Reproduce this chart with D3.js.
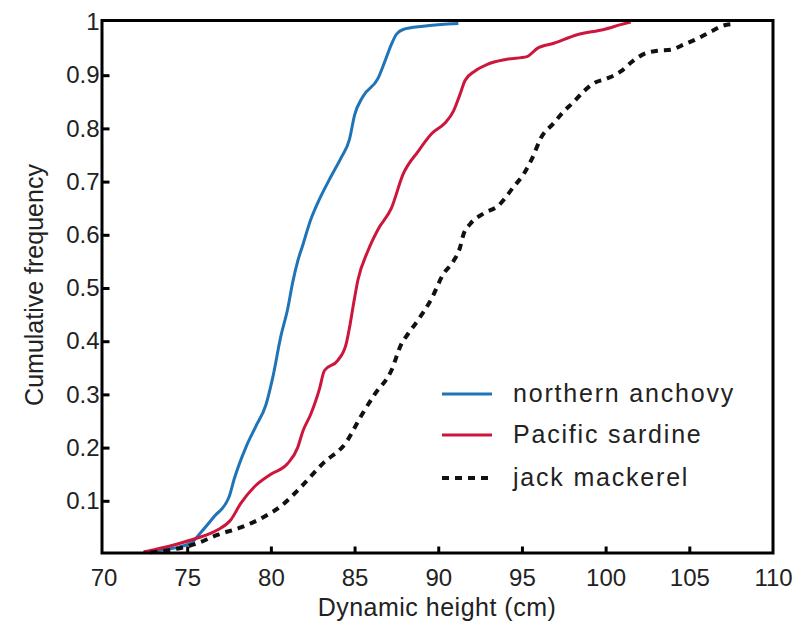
<!DOCTYPE html>
<html>
<head>
<meta charset="utf-8">
<script src="https://cdn.jsdelivr.net/npm/d3@7"></script>
<style>
  body { margin: 0; background: #fff; }
  text { font-family: "Liberation Sans", Arial, sans-serif; fill: #222; }
</style>
</head>
<body>
<div id="chart"></div>
<script>
var xTicks = [70, 75, 80, 85, 90, 95, 100, 105, 110];
var yTicks = [0.1, 0.2, 0.3, 0.4, 0.5, 0.6, 0.7, 0.8, 0.9, 1];

var seriesNames = ["northern anchovy", "Pacific sardine", "jack mackerel"];

var anchovyX = [72.4, 73.6, 75.2, 75.8, 76.6, 77.5, 77.8, 78.5, 79.1, 79.7, 80.1, 80.6, 81.0, 81.3, 81.6, 81.9, 82.4, 82.8, 83.6, 84.2, 84.7, 85.0, 85.5, 86.4, 86.8, 87.2, 87.5, 87.9, 89.1, 91.2];
var anchovyY = [0.004, 0.008, 0.02, 0.04, 0.07, 0.107, 0.14, 0.2, 0.24, 0.28, 0.33, 0.41, 0.46, 0.51, 0.55, 0.58, 0.63, 0.66, 0.71, 0.745, 0.78, 0.825, 0.86, 0.894, 0.925, 0.958, 0.977, 0.986, 0.992, 0.997];

var sardineX = [72.4, 74.2, 75.6, 76.8, 77.6, 78.2, 79.0, 80.0, 81.0, 81.6, 81.9, 82.4, 82.7, 82.9, 83.2, 84.0, 84.5, 84.7, 84.9, 85.2, 85.8, 86.4, 87.2, 87.9, 88.8, 89.6, 90.4, 90.9, 91.3, 91.6, 92.2, 92.9, 94.1, 95.3, 95.9, 96.9, 98.3, 99.9, 100.9, 101.5];
var sardineY = [0.004, 0.017, 0.03, 0.045, 0.064, 0.095, 0.126, 0.15, 0.17, 0.2, 0.23, 0.264, 0.29, 0.31, 0.345, 0.364, 0.395, 0.426, 0.463, 0.515, 0.57, 0.61, 0.65, 0.714, 0.757, 0.79, 0.81, 0.832, 0.864, 0.89, 0.908, 0.92, 0.93, 0.935, 0.95, 0.96, 0.976, 0.986, 0.995, 1.0];

var mackerelX = [72.8, 75.6, 76.8, 78.2, 79.6, 80.6, 81.8, 83.1, 84.5, 85.4, 86.2, 87.2, 87.8, 88.2, 88.8, 89.6, 90.3, 90.9, 91.3, 91.5, 91.9, 92.7, 93.6, 94.5, 95.1, 95.7, 96.1, 96.9, 97.5, 98.1, 98.7, 99.3, 100.1, 100.9, 101.6, 102.3, 103.1, 103.9, 104.7, 105.5, 106.3, 107.0, 107.8];
var mackerelY = [0.003, 0.02, 0.036, 0.05, 0.07, 0.09, 0.126, 0.17, 0.21, 0.26, 0.30, 0.345, 0.395, 0.414, 0.44, 0.48, 0.526, 0.55, 0.576, 0.6, 0.62, 0.64, 0.655, 0.69, 0.714, 0.75, 0.78, 0.81, 0.832, 0.85, 0.87, 0.885, 0.894, 0.907, 0.926, 0.94, 0.946, 0.948, 0.958, 0.969, 0.982, 0.993, 0.997];

var width = 797, height = 626;

var svg = d3.select("#chart").append("svg")
    .attr("width", width)
    .attr("height", height);

var x = d3.scaleLinear().domain([70, 110]).range([103.5, 773]);
var y = d3.scaleLinear().domain([0, 1]).range([554, 22]);

var series = [
    { name: seriesNames[0], xs: anchovyX, ys: anchovyY, color: "#1f74b8", dash: null },
    { name: seriesNames[1], xs: sardineX, ys: sardineY, color: "#cc163c", dash: null },
    { name: seriesNames[2], xs: mackerelX, ys: mackerelY, color: "#111", dash: "7,6" }
];

var line = d3.line()
    .x(d => x(d[0]))
    .y(d => y(d[1]))
    .curve(d3.curveMonotoneX);

series.forEach(function (s) {
    var pts = s.xs.map((v, i) => [v, s.ys[i]]);
    svg.append("path")
        .datum(pts)
        .attr("d", line)
        .attr("fill", "none")
        .attr("stroke", s.color)
        .attr("stroke-width", s.dash ? 4 : 3)
        .attr("stroke-dasharray", s.dash);
});

// frame
svg.append("rect")
    .attr("x", x(70) - 1.5)
    .attr("y", y(1) - 1.5)
    .attr("width", x(110) - x(70) + 1.5)
    .attr("height", y(0) - y(1) + 0.5)
    .attr("fill", "none")
    .attr("stroke", "#000")
    .attr("stroke-width", 3);

// inward ticks
var xAxis = d3.axisBottom(x).tickValues(xTicks).tickSize(-7).tickSizeOuter(0).tickPadding(15);
var xg = svg.append("g").attr("transform", `translate(0,${y(0) - 0.5})`).call(xAxis);
xg.select(".domain").remove();
xg.selectAll(".tick line").attr("stroke", "#000").attr("stroke-width", 3)
    .filter(d => d === 70 || d === 110).remove();
xg.selectAll(".tick text").attr("font-size", 24).attr("fill", "#222")
    .attr("font-family", "Liberation Sans, Arial, sans-serif");

var yAxis = d3.axisLeft(y).tickValues(yTicks).tickSize(-7).tickSizeOuter(0).tickPadding(3)
    .tickFormat(d => d === 1 ? "1" : d3.format(".1f")(d));
var yg = svg.append("g").attr("transform", `translate(${x(70) - 1},0)`).call(yAxis);
yg.select(".domain").remove();
yg.selectAll(".tick line").attr("stroke", "#000").attr("stroke-width", 3)
    .filter(d => d === 1).remove();
yg.selectAll(".tick text").attr("font-size", 24).attr("fill", "#222")
    .attr("font-family", "Liberation Sans, Arial, sans-serif");

svg.append("text")
    .attr("x", 437)
    .attr("y", 616)
    .attr("text-anchor", "middle")
    .attr("font-size", 25)
    .attr("letter-spacing", 0.5)
    .text("Dynamic height (cm)");

svg.append("text")
    .attr("transform", `translate(43,${285})rotate(-90)`)
    .attr("text-anchor", "middle")
    .attr("font-size", 25)
    .text("Cumulative frequency");

// legend
var legend = svg.append("g").attr("transform", "translate(442,394)");
series.forEach(function (s, i) {
    var gy = [0, 41, 84][i];
    legend.append("line")
        .attr("x1", 0).attr("x2", 50)
        .attr("y1", gy).attr("y2", gy)
        .attr("stroke", s.color)
        .attr("stroke-width", s.dash ? 4 : 3)
        .attr("stroke-dasharray", s.dash);
    legend.append("text")
        .attr("x", 71)
        .attr("y", gy + 8)
        .attr("font-size", 25)
        .attr("letter-spacing", 1.8)
        .text(s.name);
});
</script>
</body>
</html>
